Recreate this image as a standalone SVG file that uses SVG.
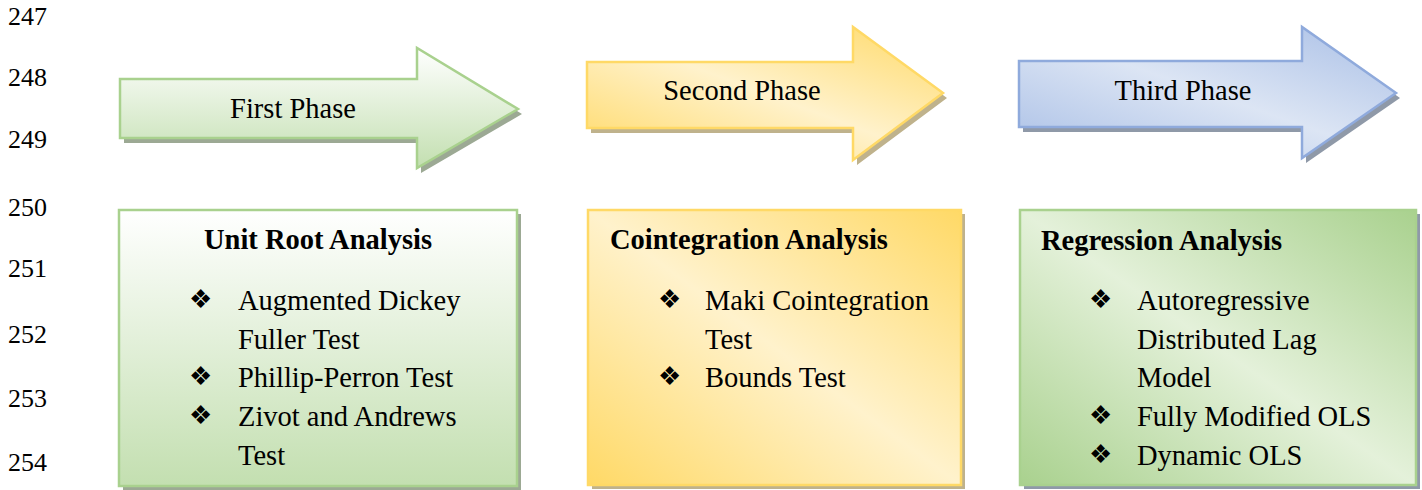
<svg xmlns="http://www.w3.org/2000/svg" width="1422" height="490" viewBox="0 0 1422 490">
<style>
.num{font-family:"Liberation Serif","Times New Roman",serif;font-size:26px;fill:#000}
.t{font-family:"Liberation Serif","Times New Roman",serif;font-size:28.5px;fill:#000}
.h{font-family:"Liberation Serif","Times New Roman",serif;font-size:28.5px;font-weight:bold;fill:#000}
.b{font-family:"DejaVu Sans","Noto Sans",sans-serif;font-size:26px;fill:#000}
.mid{text-anchor:middle}
.shg{fill:#9ca994}
.shy{fill:#bfb28c}
.shb{fill:#8f99a8}
</style>
<defs>
<linearGradient id="gGreenV" x1="0" y1="0" x2="0" y2="1">
<stop offset="0" stop-color="#ffffff"/>
<stop offset="1" stop-color="#c3dfb0"/>
</linearGradient>
<linearGradient id="gYellowD" x1="0" y1="1" x2="1" y2="0">
<stop offset="0" stop-color="#ffd966"/>
<stop offset="0.5" stop-color="#fff2cc"/>
<stop offset="1" stop-color="#ffd966"/>
</linearGradient>
<linearGradient id="gBlueD" x1="0" y1="1" x2="1" y2="0">
<stop offset="0" stop-color="#a9bfe6"/>
<stop offset="0.5" stop-color="#dce5f4"/>
<stop offset="1" stop-color="#a9bfe6"/>
</linearGradient>
<linearGradient id="gGreenD" x1="0" y1="1" x2="1" y2="0">
<stop offset="0" stop-color="#a9d18e"/>
<stop offset="0.5" stop-color="#e4f1da"/>
<stop offset="1" stop-color="#a9d18e"/>
</linearGradient>
</defs>
<rect width="1422" height="490" fill="#ffffff"/>

<g id="line-numbers">
<text class="num" x="8" y="25">247</text>
<text class="num" x="8" y="86">248</text>
<text class="num" x="8" y="148">249</text>
<text class="num" x="8" y="216">250</text>
<text class="num" x="8" y="277">251</text>
<text class="num" x="8" y="343">252</text>
<text class="num" x="8" y="407">253</text>
<text class="num" x="8" y="471">254</text>
</g>

<g id="phase1">
<path class="shg" d="M124,84 H421 V53 L522,114 L421,173 V143 H124 Z"/>
<path d="M120,79 H417 V48 L518,109 L417,168 V138 H120 Z" fill="url(#gGreenV)" stroke="#a9d18e" stroke-width="2.5" stroke-linejoin="miter"/>
<text class="t mid" x="293" y="118">First Phase</text>
</g>

<g id="phase2">
<path class="shy" d="M591,67 H857 V32 L947,98 L857,165 V133 H591 Z"/>
<path d="M587,62 H853 V27 L943,93 L853,160 V128 H587 Z" fill="url(#gYellowD)" stroke="#ffd966" stroke-width="2.5"/>
<text class="t mid" x="742" y="100">Second Phase</text>
</g>

<g id="phase3">
<path class="shb" d="M1023,66 H1306 V32 L1400,98 L1306,163 V132 H1023 Z"/>
<path d="M1019,61 H1302 V27 L1396,93 L1302,158 V127 H1019 Z" fill="url(#gBlueD)" stroke="#8faadc" stroke-width="2.5"/>
<text class="t mid" x="1183" y="100">Third Phase</text>
</g>

<g id="unit-root">
<rect class="shg" x="123" y="214" width="398" height="276"/>
<rect x="119" y="210" width="398" height="276" fill="url(#gGreenV)" stroke="#a9d18e" stroke-width="2.5"/>
<text class="h mid" x="318" y="249">Unit Root Analysis</text>
<text class="b" x="189" y="308">❖</text>
<text class="t" x="238" y="310">Augmented Dickey</text>
<text class="t" x="238" y="349">Fuller Test</text>
<text class="b" x="189" y="385">❖</text>
<text class="t" x="238" y="387">Phillip-Perron Test</text>
<text class="b" x="189" y="424">❖</text>
<text class="t" x="238" y="426">Zivot and Andrews</text>
<text class="t" x="238" y="465">Test</text>
</g>

<g id="cointegration">
<rect class="shy" x="592" y="214" width="373" height="275"/>
<rect x="588" y="210" width="373" height="275" fill="url(#gYellowD)" stroke="#ffd966" stroke-width="2.5"/>
<text class="h" x="610" y="249">Cointegration Analysis</text>
<text class="b" x="658" y="308">❖</text>
<text class="t" x="705" y="310">Maki Cointegration</text>
<text class="t" x="705" y="349">Test</text>
<text class="b" x="658" y="385">❖</text>
<text class="t" x="705" y="387">Bounds Test</text>
</g>

<g id="regression">
<rect class="shb" x="1024" y="214" width="396" height="275"/>
<rect x="1020" y="210" width="396" height="275" fill="url(#gGreenD)" stroke="#a9d18e" stroke-width="2.5"/>
<text class="h" x="1041" y="250">Regression Analysis</text>
<text class="b" x="1089" y="308">❖</text>
<text class="t" x="1137" y="310">Autoregressive</text>
<text class="t" x="1137" y="349">Distributed Lag</text>
<text class="t" x="1137" y="387">Model</text>
<text class="b" x="1089" y="424">❖</text>
<text class="t" x="1137" y="426">Fully Modified OLS</text>
<text class="b" x="1089" y="463">❖</text>
<text class="t" x="1137" y="465">Dynamic OLS</text>
</g>

<g id="connectors"/>
</svg>
